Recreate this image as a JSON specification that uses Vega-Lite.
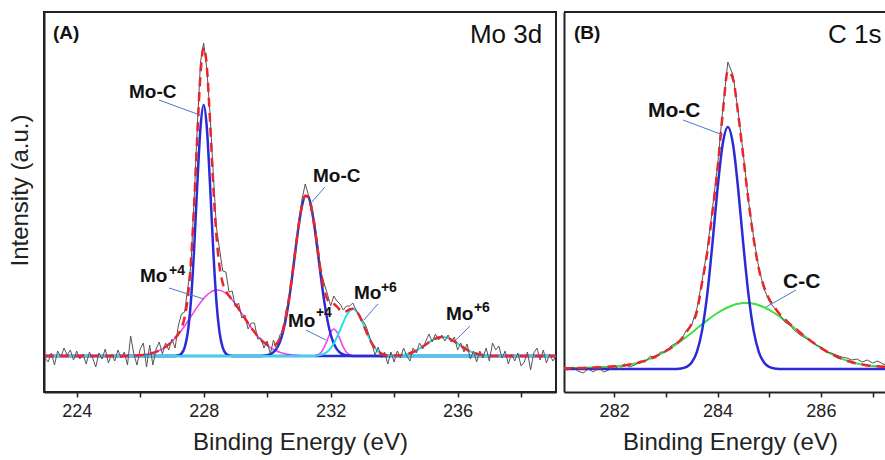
{
"$schema": "https://vega.github.io/schema/vega-lite/v6.json",
"padding": {"left": 7, "top": 11, "right": 0, "bottom": 0},
"autosize": {"type": "pad"},
"background": "white",
"spacing": 1,
"config": {
  "view": {"stroke": null},
  "font": "Liberation Sans",
  "axis": {"grid": false, "domainColor": "#222", "domainWidth": 2, "tickColor": "#222", "tickWidth": 1.5, "tickSize": 5, "labelFontSize": 18, "labelColor": "#222", "titleFontSize": 24, "titleFontWeight": "normal", "titleColor": "#222", "labelFont": "Liberation Sans", "titleFont": "Liberation Sans"},
  "text": {"font": "Liberation Sans", "color": "#111"}
},
"datasets": {
  "ar": [{"x":223.0,"y":-2},{"x":223.1,"y":-6},{"x":223.2,"y":3},{"x":223.3,"y":-9},{"x":223.4,"y":5},{"x":223.5,"y":-1},{"x":223.6,"y":8},{"x":223.7,"y":1},{"x":223.8,"y":6},{"x":223.9,"y":-4},
{"x":224.0,"y":5},{"x":224.1,"y":-3},{"x":224.2,"y":2},{"x":224.3,"y":-8},{"x":224.4,"y":4},{"x":224.5,"y":-2},{"x":224.6,"y":-11},{"x":224.7,"y":3},{"x":224.8,"y":-3},{"x":224.9,"y":7},
{"x":225.0,"y":-7},{"x":225.1,"y":2},{"x":225.2,"y":-5},{"x":225.3,"y":6},{"x":225.4,"y":-2},{"x":225.5,"y":4},{"x":225.6,"y":-9},{"x":225.7,"y":20},{"x":225.8,"y":2},{"x":225.9,"y":-9},
{"x":226.0,"y":7},{"x":226.1,"y":13},{"x":226.2,"y":-11},{"x":226.3,"y":11},{"x":226.4,"y":-9},{"x":226.5,"y":7},{"x":226.6,"y":14},{"x":226.7,"y":2},{"x":226.8,"y":13},{"x":226.9,"y":6},
{"x":227.0,"y":17},{"x":227.1,"y":8},{"x":227.2,"y":30},{"x":227.3,"y":42},{"x":227.4,"y":44},{"x":227.5,"y":68},{"x":227.6,"y":91},{"x":227.7,"y":157},{"x":227.8,"y":229},{"x":227.9,"y":294},
{"x":228.0,"y":313},{"x":228.1,"y":287},{"x":228.2,"y":242},{"x":228.3,"y":184},{"x":228.4,"y":129},{"x":228.5,"y":107},{"x":228.6,"y":85},{"x":228.7,"y":84},{"x":228.8,"y":64},{"x":228.9,"y":65},
{"x":229.0,"y":49},{"x":229.1,"y":53},{"x":229.2,"y":38},{"x":229.3,"y":41},{"x":229.4,"y":27},{"x":229.5,"y":33},{"x":229.6,"y":33},{"x":229.7,"y":17},{"x":229.8,"y":18},{"x":229.9,"y":8},
{"x":230.0,"y":15},{"x":230.1,"y":2},{"x":230.2,"y":16},{"x":230.3,"y":7},{"x":230.4,"y":21},{"x":230.5,"y":25},{"x":230.6,"y":46},{"x":230.7,"y":57},{"x":230.8,"y":85},{"x":230.9,"y":105},
{"x":231.0,"y":135},{"x":231.1,"y":157},{"x":231.2,"y":172},{"x":231.3,"y":161},{"x":231.4,"y":143},{"x":231.5,"y":134},{"x":231.6,"y":110},{"x":231.7,"y":84},{"x":231.8,"y":72},{"x":231.9,"y":62},
{"x":232.0,"y":50},{"x":232.1,"y":60},{"x":232.2,"y":55},{"x":232.3,"y":52},{"x":232.4,"y":46},{"x":232.5,"y":50},{"x":232.6,"y":50},{"x":232.7,"y":53},{"x":232.8,"y":46},{"x":232.9,"y":41},
{"x":233.0,"y":36},{"x":233.1,"y":31},{"x":233.2,"y":22},{"x":233.3,"y":12},{"x":233.4,"y":1},{"x":233.5,"y":9},{"x":233.6,"y":-2},{"x":233.7,"y":4},{"x":233.8,"y":-8},{"x":233.9,"y":4},
{"x":234.0,"y":-6},{"x":234.1,"y":5},{"x":234.2,"y":-2},{"x":234.3,"y":8},{"x":234.4,"y":0},{"x":234.5,"y":-5},{"x":234.6,"y":8},{"x":234.7,"y":3},{"x":234.8,"y":13},{"x":234.9,"y":7},
{"x":235.0,"y":15},{"x":235.1,"y":22},{"x":235.2,"y":14},{"x":235.3,"y":22},{"x":235.4,"y":16},{"x":235.5,"y":21},{"x":235.6,"y":15},{"x":235.7,"y":21},{"x":235.8,"y":14},{"x":235.9,"y":19},
{"x":236.0,"y":6},{"x":236.1,"y":13},{"x":236.2,"y":4},{"x":236.3,"y":12},{"x":236.4,"y":-3},{"x":236.5,"y":5},{"x":236.6,"y":-6},{"x":236.7,"y":5},{"x":236.8,"y":-2},{"x":236.9,"y":8},
{"x":237.0,"y":-5},{"x":237.1,"y":13},{"x":237.2,"y":6},{"x":237.3,"y":10},{"x":237.4,"y":-2},{"x":237.5,"y":5},{"x":237.6,"y":-8},{"x":237.7,"y":2},{"x":237.8,"y":-5},{"x":237.9,"y":3},
{"x":238.0,"y":-10},{"x":238.1,"y":-6},{"x":238.2,"y":4},{"x":238.3,"y":-14},{"x":238.4,"y":3},{"x":238.5,"y":8},{"x":238.6,"y":-4},{"x":238.7,"y":6},{"x":238.8,"y":-7},{"x":238.9,"y":2},
{"x":239.0,"y":-5},{"x":239.1,"y":0}],
  "af": [{"x":223.0,"y":0},{"x":225.5,"y":0},{"x":225.6,"y":0.2},{"x":225.7,"y":0.3},{"x":225.8,"y":0.4},{"x":225.9,"y":0.6},{"x":226.0,"y":0.8},{"x":226.1,"y":1.2},{"x":226.2,"y":1.6},{"x":226.3,"y":2.3},{"x":226.4,"y":3.1},{"x":226.5,"y":4.1},{"x":226.6,"y":5.5},{"x":226.7,"y":7.1},{"x":226.8,"y":9.2},{"x":226.9,"y":11.6},{"x":227.0,"y":14.4},{"x":227.1,"y":17.8},{"x":227.2,"y":22.0},{"x":227.3,"y":27.9},{"x":227.4,"y":38.4},{"x":227.5,"y":58.3},{"x":227.6,"y":94.8},{"x":227.7,"y":151.6},{"x":227.8,"y":221.1},{"x":227.9,"y":282.0},{"x":228.0,"y":308.5},{"x":228.1,"y":289.3},{"x":228.2,"y":235.5},{"x":228.3,"y":172.4},{"x":228.4,"y":121.3},{"x":228.5,"y":89.4},{"x":228.6,"y":73.0},{"x":228.7,"y":64.9},{"x":228.8,"y":60.2},{"x":228.9,"y":56.1},{"x":229.0,"y":51.8},{"x":229.1,"y":47.3},{"x":229.2,"y":42.5},{"x":229.3,"y":37.6},{"x":229.4,"y":32.8},{"x":229.5,"y":28.2},{"x":229.6,"y":23.9},{"x":229.7,"y":19.9},{"x":229.8,"y":16.4},{"x":229.9,"y":13.6},{"x":230.0,"y":11.3},{"x":230.1,"y":10.1},{"x":230.2,"y":10.2},{"x":230.3,"y":12.5},{"x":230.4,"y":17.7},{"x":230.5,"y":26.9},{"x":230.6,"y":41.0},{"x":230.7,"y":60.1},{"x":230.8,"y":83.4},{"x":230.9,"y":108.6},{"x":231.0,"y":132.4},{"x":231.1,"y":150.7},{"x":231.2,"y":160.3},{"x":231.3,"y":159.1},{"x":231.4,"y":147.4},{"x":231.5,"y":127.7},{"x":231.6,"y":104.5},{"x":231.7,"y":82.3},{"x":231.8,"y":65.6},{"x":231.9,"y":56.6},{"x":232.0,"y":53.5},{"x":232.1,"y":52.1},{"x":232.2,"y":49.3},{"x":232.3,"y":45.9},{"x":232.4,"y":44.1},{"x":232.5,"y":44.9},{"x":232.6,"y":46.8},{"x":232.7,"y":47.3},{"x":232.8,"y":45.3},{"x":232.9,"y":40.6},{"x":233.0,"y":33.8},{"x":233.1,"y":26.2},{"x":233.2,"y":18.9},{"x":233.3,"y":12.6},{"x":233.4,"y":7.9},{"x":233.5,"y":4.5},{"x":233.6,"y":2.4},{"x":233.7,"y":1.2},{"x":233.8,"y":0.6},{"x":233.9,"y":0.3},{"x":234.0,"y":0.4},{"x":234.1,"y":0.5},{"x":234.2,"y":0.8},{"x":234.3,"y":1.2},{"x":234.4,"y":1.9},{"x":234.5,"y":2.8},{"x":234.6,"y":4.0},{"x":234.7,"y":5.5},{"x":234.8,"y":7.3},{"x":234.9,"y":9.3},{"x":235.0,"y":11.5},{"x":235.1,"y":13.7},{"x":235.2,"y":15.7},{"x":235.3,"y":17.4},{"x":235.4,"y":18.5},{"x":235.5,"y":19.0},{"x":235.6,"y":18.8},{"x":235.7,"y":17.9},{"x":235.8,"y":16.4},{"x":235.9,"y":14.6},{"x":236.0,"y":12.4},{"x":236.1,"y":10.2},{"x":236.2,"y":8.1},{"x":236.3,"y":6.2},{"x":236.4,"y":4.5},{"x":236.5,"y":3.2},{"x":236.6,"y":2.2},{"x":236.7,"y":1.5},{"x":236.8,"y":0.9},{"x":236.9,"y":0.6},{"x":237.0,"y":0.3},{"x":237.1,"y":0},{"x":239.1,"y":0}],
  "a1": [{"x":223.0,"y":0},{"x":227.0,"y":0},{"x":227.1,"y":0.1},{"x":227.2,"y":0.6},{"x":227.3,"y":2.4},{"x":227.4,"y":8.4},{"x":227.5,"y":23.6},{"x":227.6,"y":55.3},{"x":227.7,"y":107.2},{"x":227.8,"y":172},{"x":227.9,"y":228.4},{"x":228.0,"y":251},{"x":228.1,"y":228.4},{"x":228.2,"y":172},{"x":228.3,"y":107.2},{"x":228.4,"y":55.3},{"x":228.5,"y":23.6},{"x":228.6,"y":8.4},{"x":228.7,"y":2.4},{"x":228.8,"y":0.6},{"x":228.9,"y":0.1},{"x":229.0,"y":0},{"x":239.1,"y":0}],
  "a2": [{"x":223.0,"y":0},{"x":225.4,"y":0},{"x":225.6,"y":0.17},{"x":225.8,"y":0.39},{"x":226.0,"y":0.82},{"x":226.1,"y":1.16},{"x":226.2,"y":1.63},{"x":226.3,"y":2.26},{"x":226.4,"y":3.08},{"x":226.5,"y":4.14},{"x":226.6,"y":5.47},{"x":226.7,"y":7.12},{"x":226.8,"y":9.15},{"x":226.9,"y":11.58},{"x":227.0,"y":14.42},{"x":227.1,"y":17.71},{"x":227.2,"y":21.42},{"x":227.3,"y":25.54},{"x":227.4,"y":29.98},{"x":227.5,"y":34.69},{"x":227.6,"y":39.54},{"x":227.7,"y":44.40},{"x":227.8,"y":49.13},{"x":227.9,"y":53.56},{"x":228.0,"y":57.52},{"x":228.1,"y":60.87},{"x":228.2,"y":63.45},{"x":228.3,"y":65.18},{"x":228.4,"y":65.96},{"x":228.5,"y":65.76},{"x":228.6,"y":64.60},{"x":228.7,"y":62.52},{"x":228.8,"y":59.61},{"x":228.9,"y":56.00},{"x":229.0,"y":51.84},{"x":229.1,"y":47.27},{"x":229.2,"y":42.47},{"x":229.3,"y":37.59},{"x":229.4,"y":32.78},{"x":229.5,"y":28.17},{"x":229.6,"y":23.85},{"x":229.7,"y":19.89},{"x":229.8,"y":16.35},{"x":229.9,"y":13.23},{"x":230.0,"y":10.55},{"x":230.1,"y":8.30},{"x":230.2,"y":6.42},{"x":230.3,"y":4.90},{"x":230.4,"y":3.68},{"x":230.5,"y":2.73},{"x":230.6,"y":1.99},{"x":230.7,"y":1.43},{"x":230.8,"y":1.01},{"x":230.9,"y":0.71},{"x":231.0,"y":0.48},{"x":231.2,"y":0.2},{"x":231.4,"y":0.08},{"x":231.6,"y":0},{"x":239.1,"y":0}],
  "a3": [{"x":223.0,"y":0},{"x":229.7,"y":0},{"x":229.9,"y":0.32},{"x":230.0,"y":0.78},{"x":230.1,"y":1.79},{"x":230.2,"y":3.81},{"x":230.3,"y":7.55},{"x":230.4,"y":13.99},{"x":230.5,"y":24.18},{"x":230.6,"y":38.98},{"x":230.7,"y":58.65},{"x":230.8,"y":82.35},{"x":230.9,"y":107.89},{"x":231.0,"y":131.89},{"x":231.1,"y":150.44},{"x":231.2,"y":160.11},{"x":231.3,"y":159.0},{"x":231.4,"y":147.35},{"x":231.5,"y":127.40},{"x":231.6,"y":102.78},{"x":231.7,"y":77.38},{"x":231.8,"y":54.35},{"x":231.9,"y":35.63},{"x":232.0,"y":21.79},{"x":232.1,"y":12.43},{"x":232.2,"y":6.62},{"x":232.3,"y":3.29},{"x":232.4,"y":1.52},{"x":232.5,"y":0.66},{"x":232.6,"y":0.27},{"x":232.8,"y":0},{"x":239.1,"y":0}],
  "a4": [{"x":223.0,"y":0},{"x":231.4,"y":0},{"x":231.5,"y":0.30},{"x":231.6,"y":1.19},{"x":231.7,"y":3.65},{"x":231.8,"y":8.77},{"x":231.9,"y":16.38},{"x":232.0,"y":23.83},{"x":232.1,"y":27},{"x":232.2,"y":23.83},{"x":232.3,"y":16.38},{"x":232.4,"y":8.77},{"x":232.5,"y":3.65},{"x":232.6,"y":1.19},{"x":232.7,"y":0.30},{"x":232.8,"y":0},{"x":239.1,"y":0}],
  "a5": [{"x":223.0,"y":0},{"x":231.5,"y":0},{"x":231.6,"y":0.57},{"x":231.7,"y":1.22},{"x":231.8,"y":2.44},{"x":231.9,"y":4.54},{"x":232.0,"y":7.85},{"x":232.1,"y":12.62},{"x":232.2,"y":18.86},{"x":232.3,"y":26.20},{"x":232.4,"y":33.84},{"x":232.5,"y":40.61},{"x":232.6,"y":45.31},{"x":232.7,"y":47},{"x":232.8,"y":45.31},{"x":232.9,"y":40.61},{"x":233.0,"y":33.84},{"x":233.1,"y":26.20},{"x":233.2,"y":18.86},{"x":233.3,"y":12.62},{"x":233.4,"y":7.85},{"x":233.5,"y":4.54},{"x":233.6,"y":2.44},{"x":233.7,"y":1.22},{"x":233.8,"y":0.57},{"x":233.9,"y":0.24},{"x":234.0,"y":0},{"x":239.1,"y":0}],
  "a6": [{"x":233.9,"y":0},{"x":234.0,"y":0.27},{"x":234.1,"y":0.46},{"x":234.2,"y":0.76},{"x":234.3,"y":1.21},{"x":234.4,"y":1.87},{"x":234.5,"y":2.77},{"x":234.6,"y":3.97},{"x":234.7,"y":5.48},{"x":234.8,"y":7.29},{"x":234.9,"y":9.33},{"x":235.0,"y":11.52},{"x":235.1,"y":13.71},{"x":235.2,"y":15.72},{"x":235.3,"y":17.37},{"x":235.4,"y":18.50},{"x":235.5,"y":18.99},{"x":235.6,"y":18.78},{"x":235.7,"y":17.90},{"x":235.8,"y":16.43},{"x":235.9,"y":14.55},{"x":236.0,"y":12.41},{"x":236.1,"y":10.20},{"x":236.2,"y":8.08},{"x":236.3,"y":6.17},{"x":236.4,"y":4.54},{"x":236.5,"y":3.22},{"x":236.6,"y":2.20},{"x":236.7,"y":1.45},{"x":236.8,"y":0.92},{"x":236.9,"y":0.56},{"x":237.0,"y":0.33},{"x":237.1,"y":0.15},{"x":237.2,"y":0}],
  "br": [{"x":281.0,"y":2},{"x":281.1,"y":-1},{"x":281.2,"y":2},{"x":281.3,"y":-2},{"x":281.4,"y":-4},{"x":281.5,"y":0},{"x":281.6,"y":-3},{"x":281.7,"y":1},{"x":281.8,"y":-3},{"x":281.9,"y":-1},{"x":282.0,"y":3},{"x":282.1,"y":0},{"x":282.2,"y":5},{"x":282.3,"y":2},{"x":282.4,"y":4},{"x":282.5,"y":8},{"x":282.6,"y":7},{"x":282.7,"y":13},{"x":282.8,"y":11},{"x":282.9,"y":17},{"x":283.0,"y":17},{"x":283.1,"y":23},{"x":283.2,"y":26},{"x":283.3,"y":29},{"x":283.4,"y":39},{"x":283.5,"y":44},{"x":283.6,"y":60},{"x":283.7,"y":88},{"x":283.8,"y":119},{"x":283.9,"y":159},{"x":284.0,"y":203},{"x":284.1,"y":259},{"x":284.2,"y":307},{"x":284.3,"y":294},{"x":284.4,"y":257},{"x":284.5,"y":214},{"x":284.6,"y":168},{"x":284.7,"y":131},{"x":284.8,"y":101},{"x":284.9,"y":80},{"x":285.0,"y":68},{"x":285.1,"y":61},{"x":285.2,"y":55},{"x":285.3,"y":47},{"x":285.4,"y":44},{"x":285.5,"y":38},{"x":285.6,"y":34},{"x":285.7,"y":31},{"x":285.8,"y":28},{"x":285.9,"y":24},{"x":286.0,"y":22},{"x":286.1,"y":17},{"x":286.2,"y":16},{"x":286.3,"y":14},{"x":286.4,"y":12},{"x":286.5,"y":11},{"x":286.6,"y":9},{"x":286.7,"y":10},{"x":286.8,"y":7},{"x":286.9,"y":9},{"x":287.0,"y":6},{"x":287.1,"y":8},{"x":287.2,"y":5},{"x":287.3,"y":4}],
  "bf": [{"x":281.0,"y":0.7},{"x":281.1,"y":0.8},{"x":281.2,"y":0.9},{"x":281.3,"y":1.0},{"x":281.4,"y":1.1},{"x":281.5,"y":1.3},{"x":281.6,"y":1.5},{"x":281.7,"y":1.7},{"x":281.8,"y":2.0},{"x":281.9,"y":2.3},{"x":282.0,"y":2.7},{"x":282.1,"y":3.1},{"x":282.2,"y":3.6},{"x":282.3,"y":4.4},{"x":282.4,"y":5.4},{"x":282.5,"y":6.75},{"x":282.6,"y":8.4},{"x":282.7,"y":10.3},{"x":282.8,"y":12.5},{"x":282.9,"y":15.1},{"x":283.0,"y":18},{"x":283.1,"y":21},{"x":283.2,"y":25},{"x":283.3,"y":30},{"x":283.4,"y":37},{"x":283.5,"y":45},{"x":283.6,"y":57},{"x":283.7,"y":86},{"x":283.8,"y":116},{"x":283.9,"y":156},{"x":284.0,"y":200},{"x":284.1,"y":255},{"x":284.2,"y":298},{"x":284.3,"y":290},{"x":284.4,"y":255},{"x":284.5,"y":212},{"x":284.6,"y":168},{"x":284.7,"y":130},{"x":284.8,"y":100},{"x":284.9,"y":82},{"x":285.0,"y":70},{"x":285.1,"y":62},{"x":285.2,"y":55},{"x":285.3,"y":50},{"x":285.4,"y":45},{"x":285.5,"y":41},{"x":285.6,"y":36.3},{"x":285.7,"y":32.2},{"x":285.8,"y":28.3},{"x":285.9,"y":24.6},{"x":286.0,"y":21.1},{"x":286.1,"y":17.9},{"x":286.2,"y":15.1},{"x":286.3,"y":12.5},{"x":286.4,"y":10.3},{"x":286.5,"y":8.4},{"x":286.6,"y":6.75},{"x":286.7,"y":5.4},{"x":286.8,"y":4.4},{"x":286.9,"y":3.6},{"x":287.0,"y":3.1},{"x":287.1,"y":2.7},{"x":287.2,"y":2.3},{"x":287.3,"y":2.0}],
  "b1": [{"x":281.0,"y":0},{"x":283.1,"y":0},{"x":283.2,"y":0.1},{"x":283.3,"y":0.6},{"x":283.4,"y":2.1},{"x":283.5,"y":6.5},{"x":283.6,"y":16.9},{"x":283.7,"y":38.1},{"x":283.8,"y":74.1},{"x":283.9,"y":124.4},{"x":284.0,"y":180.0},{"x":284.1,"y":224.7},{"x":284.2,"y":242},{"x":284.3,"y":224.7},{"x":284.4,"y":180.0},{"x":284.5,"y":124.4},{"x":284.6,"y":74.1},{"x":284.7,"y":38.1},{"x":284.8,"y":16.9},{"x":284.9,"y":6.5},{"x":285.0,"y":2.1},{"x":285.1,"y":0.6},{"x":285.2,"y":0.1},{"x":285.3,"y":0},{"x":287.3,"y":0}],
  "b2": [{"x":281.0,"y":0.7},{"x":281.1,"y":0.8},{"x":281.2,"y":0.9},{"x":281.3,"y":1.0},{"x":281.4,"y":1.1},{"x":281.5,"y":1.3},{"x":281.6,"y":1.5},{"x":281.7,"y":1.7},{"x":281.8,"y":2.0},{"x":281.9,"y":2.3},{"x":282.0,"y":2.7},{"x":282.1,"y":3.1},{"x":282.2,"y":3.6},{"x":282.3,"y":4.4},{"x":282.4,"y":5.4},{"x":282.5,"y":6.75},{"x":282.6,"y":8.39},{"x":282.7,"y":10.31},{"x":282.8,"y":12.53},{"x":282.9,"y":15.07},{"x":283.0,"y":17.93},{"x":283.1,"y":21.09},{"x":283.2,"y":24.55},{"x":283.3,"y":28.27},{"x":283.4,"y":32.21},{"x":283.5,"y":36.29},{"x":283.6,"y":40.45},{"x":283.7,"y":44.60},{"x":283.8,"y":48.64},{"x":283.9,"y":52.48},{"x":284.0,"y":56.01},{"x":284.1,"y":59.14},{"x":284.2,"y":61.76},{"x":284.3,"y":63.80},{"x":284.4,"y":65.20},{"x":284.5,"y":65.91},{"x":284.6,"y":65.91},{"x":284.7,"y":65.20},{"x":284.8,"y":63.80},{"x":284.9,"y":61.76},{"x":285.0,"y":59.14},{"x":285.1,"y":56.01},{"x":285.2,"y":52.48},{"x":285.3,"y":48.64},{"x":285.4,"y":44.60},{"x":285.5,"y":40.45},{"x":285.6,"y":36.29},{"x":285.7,"y":32.21},{"x":285.8,"y":28.27},{"x":285.9,"y":24.55},{"x":286.0,"y":21.09},{"x":286.1,"y":17.93},{"x":286.2,"y":15.07},{"x":286.3,"y":12.53},{"x":286.4,"y":10.31},{"x":286.5,"y":8.39},{"x":286.6,"y":6.75},{"x":286.7,"y":5.4},{"x":286.8,"y":4.4},{"x":286.9,"y":3.6},{"x":287.0,"y":3.1},{"x":287.1,"y":2.7},{"x":287.2,"y":2.3},{"x":287.3,"y":2.0}]
},
"hconcat": [
  {
    "width": 512, "height": 380,
    "view": {"stroke": "#222", "strokeWidth": 2},
    "encoding": {
      "x": {"field": "x", "type": "quantitative", "scale": {"domain": [222.97, 239.1], "nice": false, "zero": false},
            "axis": {"values": [224,226,228,230,232,234,236,238], "labelExpr": "datum.value % 4 == 0 ? datum.label : ''", "title": "Binding Energy (eV)", "labelPadding": 5, "titlePadding": 10}},
      "y": {"field": "y", "type": "quantitative", "scale": {"domain": [-36, 344], "nice": false, "zero": false},
            "axis": {"title": "Intensity (a.u.)", "ticks": false, "labels": false, "titlePadding": 12, "titleY": 178}}
    },
    "layer": [
      {"data": {"name": "a2"}, "mark": {"type": "line", "color": "#ee48ee", "strokeWidth": 1.6, "interpolate": "monotone"}},
      {"data": {"name": "a4"}, "mark": {"type": "line", "color": "#ee48ee", "strokeWidth": 1.6, "interpolate": "monotone"}},
      {"data": {"name": "a1"}, "mark": {"type": "line", "color": "#2b2bd6", "strokeWidth": 2.5, "interpolate": "monotone"}},
      {"data": {"name": "a3"}, "mark": {"type": "line", "color": "#2b2bd6", "strokeWidth": 2.5, "interpolate": "monotone"}},
      {"data": {"name": "a5"}, "mark": {"type": "line", "color": "#22e0e8", "strokeWidth": 2, "interpolate": "monotone"}},
      {"data": {"name": "a6"}, "mark": {"type": "line", "color": "#22e0e8", "strokeWidth": 2, "interpolate": "monotone"}},
      {"data": {"name": "ar"}, "mark": {"type": "line", "color": "#555555", "strokeWidth": 1}},
      {"data": {"name": "af"}, "mark": {"type": "line", "color": "#e8262c", "strokeWidth": 2.5, "strokeDash": [9, 6], "interpolate": "monotone"}},
      {"data": {"values": [
        {"x": 226.592, "y": 256, "x2": 227.883, "y2": 241},
        {"x": 231.820, "y": 169, "x2": 231.411, "y2": 154},
        {"x": 226.907, "y": 68, "x2": 228.009, "y2": 57},
        {"x": 231.222, "y": 26, "x2": 231.852, "y2": 16},
        {"x": 233.490, "y": 52, "x2": 233.049, "y2": 36},
        {"x": 236.387, "y": 30, "x2": 235.946, "y2": 16}]},
       "mark": {"type": "rule", "color": "#4a78c8", "strokeWidth": 1},
       "encoding": {"x2": {"field": "x2"}, "y2": {"field": "y2"}}},
      {"data": {"values": [
        {"x": 225.647, "y": 258, "t": "Mo-C"},
        {"x": 231.443, "y": 174, "t": "Mo-C"},
        {"x": 225.994, "y": 74, "t": "Mo"},
        {"x": 230.655, "y": 29, "t": "Mo"},
        {"x": 232.734, "y": 57, "t": "Mo"},
        {"x": 235.631, "y": 36, "t": "Mo"},
        {"x": 223.253, "y": 317, "t": "(A)"}]},
       "mark": {"type": "text", "align": "left", "baseline": "alphabetic", "fontWeight": "bold", "fontSize": 19},
       "encoding": {"text": {"field": "t"}}},
      {"data": {"values": [
        {"x": 226.907, "y": 81, "t": "+4"},
        {"x": 231.537, "y": 39, "t": "+4"},
        {"x": 233.584, "y": 64, "t": "+6"},
        {"x": 236.513, "y": 44, "t": "+6"}]},
       "mark": {"type": "text", "align": "left", "baseline": "alphabetic", "fontWeight": "bold", "fontSize": 14},
       "encoding": {"text": {"field": "t"}}},
      {"data": {"values": [{"x": 236.387, "y": 313, "t": "Mo 3d"}]},
       "mark": {"type": "text", "align": "left", "baseline": "alphabetic", "fontSize": 26},
       "encoding": {"text": {"field": "t"}}}
    ]
  },
  {
    "width": 322, "height": 380,
    "encoding": {
      "x": {"field": "x", "type": "quantitative", "scale": {"domain": [281.03, 287.26], "nice": false, "zero": false},
            "axis": {"values": [282,283,284,285,286,287], "labelExpr": "datum.value % 2 == 0 ? datum.label : ''", "title": "Binding Energy (eV)", "labelPadding": 5, "titlePadding": 10, "titleX": 166}},
      "y": {"field": "y", "type": "quantitative", "scale": {"domain": [-23, 357], "nice": false, "zero": false},
            "axis": {"title": null, "ticks": false, "labels": false}}
    },
    "layer": [
      {"data": {"name": "b2"}, "mark": {"type": "line", "color": "#3ee03e", "strokeWidth": 2, "interpolate": "monotone", "clip": true}},
      {"data": {"name": "b1"}, "mark": {"type": "line", "color": "#2b2bd6", "strokeWidth": 2.5, "interpolate": "monotone", "clip": true}},
      {"data": {"name": "br"}, "mark": {"type": "line", "color": "#555555", "strokeWidth": 1, "clip": true}},
      {"data": {"name": "bf"}, "mark": {"type": "line", "color": "#e8262c", "strokeWidth": 2.5, "strokeDash": [9, 6], "interpolate": "monotone", "clip": true}},
      {"data": {"values": [{"x": 281.03, "y": 357, "x2": 287.26, "y2": 357}]},
       "mark": {"type": "rule", "color": "#222", "strokeWidth": 2},
       "encoding": {"x2": {"field": "x2"}, "y2": {"field": "y2"}}},
      {"data": {"values": [
        {"x": 283.333, "y": 249, "x2": 284.107, "y2": 234},
        {"x": 285.520, "y": 79, "x2": 284.939, "y2": 62}]},
       "mark": {"type": "rule", "color": "#4a78c8", "strokeWidth": 1},
       "encoding": {"x2": {"field": "x2"}, "y2": {"field": "y2"}}},
      {"data": {"values": [{"x": 281.224, "y": 330, "t": "(B)"}]},
       "mark": {"type": "text", "align": "left", "baseline": "alphabetic", "fontWeight": "bold", "fontSize": 19},
       "encoding": {"text": {"field": "t"}}},
      {"data": {"values": [
        {"x": 282.656, "y": 252, "t": "Mo-C"},
        {"x": 285.268, "y": 81, "t": "C-C"}]},
       "mark": {"type": "text", "align": "left", "baseline": "alphabetic", "fontWeight": "bold", "fontSize": 21},
       "encoding": {"text": {"field": "t"}}},
      {"data": {"values": [{"x": 286.139, "y": 326, "t": "C 1s"}]},
       "mark": {"type": "text", "align": "left", "baseline": "alphabetic", "fontSize": 26},
       "encoding": {"text": {"field": "t"}}}
    ]
  }
]
}
